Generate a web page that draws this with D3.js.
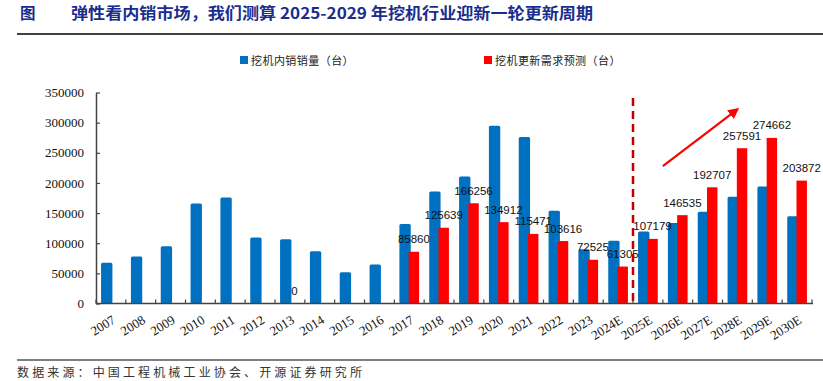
<!DOCTYPE html>
<html>
<head>
	<meta charset="utf-8">
	<title>挖机更新周期</title>
	<script src="https://d3js.org/d3.v7.min.js"></script>
	<style type="text/css">
		body{ margin:0; background:#fff; }
		svg{ display:block; }
	</style>
</head>
<body>
<script type="text/javascript">
	// data
	var years = ["2007","2008","2009","2010","2011","2012","2013","2014","2015","2016","2017","2018","2019","2020","2021","2022","2023","2024E","2025E","2026E","2027E","2028E","2029E","2030E"]
	var domesticSales = [67500,78000,95000,166000,176000,109500,106500,86500,52000,64700,132000,185800,210700,294700,276000,153700,90000,104000,119500,133700,152000,176900,194100,144900]
	var replaceDemand = [null,null,null,null,null,null,0,null,null,null,85860,125639,166256,134912,115471,103616,72525,61305,107179,146535,192707,257591,274662,203872]
	var yTicks = [0,50000,100000,150000,200000,250000,300000,350000]
	var seriesNames = ["挖机内销销量（台）","挖机更新需求预测（台）"]

	var W = 823, H = 381
	var blue = "#0070C0", red = "#FF0000"

	var svg = d3.select("body").append("svg").attr("width",W).attr("height",H)

	// title + rules
	svg.append("text").attr("x",20).attr("y",19)
		.style("font-family","'Noto Sans CJK SC'").style("font-weight","bold").style("font-size","15.5px")
		.attr("fill","#1a2d8c").text("图")
	svg.append("text").attr("x",71).attr("y",19)
		.style("font-family","'Noto Sans CJK SC'").style("font-weight","bold").style("font-size","15.5px")
		.attr("fill","#1a2d8c").attr("textLength",522).attr("lengthAdjust","spacingAndGlyphs")
		.text("弹性看内销市场，我们测算 2025-2029 年挖机行业迎新一轮更新周期")
	svg.append("line").attr("x1",17).attr("x2",W).attr("y1",34).attr("y2",34).attr("stroke","#000").attr("stroke-width",1.6)
	svg.append("line").attr("x1",17).attr("x2",W).attr("y1",360).attr("y2",360).attr("stroke","#000").attr("stroke-width",1.2)
	svg.append("text").attr("x",17).attr("y",377)
		.style("font-family","'Noto Sans CJK SC'").style("font-size","12px").attr("fill","#333")
		.attr("textLength",345).attr("lengthAdjust","spacing")
		.text("数据来源：中国工程机械工业协会、开源证券研究所")

	// scales
	var x = d3.scaleBand().domain(years).range([96,812]).paddingInner(0).paddingOuter(0)
	var y = d3.scaleLinear().domain([0,350000]).range([303.5,92.5])
	var bw = x.bandwidth()

	// legend
	var legend = [{name:seriesNames[0],color:blue,x:240},{name:seriesNames[1],color:red,x:484}]
	legend.forEach(function(d){
		svg.append("rect").attr("x",d.x).attr("y",56).attr("width",8).attr("height",8).attr("fill",d.color)
		svg.append("text").attr("x",d.x+11).attr("y",64.5)
			.style("font-family","'Noto Sans CJK SC'").style("font-size","11px").attr("fill","#222")
			.attr("textLength",d.name.length*11.4).attr("lengthAdjust","spacing")
			.text(d.name)
	})

	// bars
	var g = svg.append("g")
	g.selectAll(".b").data(years).enter().append("rect")
		.attr("x",function(d){ return x(d) + bw*0.17 })
		.attr("width",bw*0.38)
		.attr("y",function(d,i){ return y(domesticSales[i]) })
		.attr("height",function(d,i){ return y(0) - y(domesticSales[i]) })
		.attr("rx",1.5)
		.attr("fill",blue)

	var redData = years.map(function(d,i){ return {year:d, v:replaceDemand[i]} }).filter(function(d){ return d.v !== null })
	g.selectAll(".r").data(redData).enter().append("rect")
		.attr("x",function(d){ return x(d.year) + bw*0.48 })
		.attr("width",bw*0.35)
		.attr("y",function(d){ return y(d.v) })
		.attr("height",function(d){ return y(0) - y(d.v) })
		.attr("fill",red)

	g.selectAll(".lbl").data(redData).enter().append("text")
		.attr("x",function(d){ return x(d.year) + bw*0.655 })
		.attr("y",function(d){ return y(d.v) - 8.5 })
		.attr("text-anchor","middle")
		.style("font-family","'Liberation Sans', Arial").style("font-size","11.5px").attr("fill","#111")
		.text(function(d){ return d.v })

	// axes
	var yAxis = d3.axisLeft(y).tickValues(yTicks).tickSizeInner(-4).tickSizeOuter(0).tickPadding(12).tickFormat(d3.format("d"))
	var ya = svg.append("g").attr("transform","translate(96,0)").call(yAxis)
	ya.select(".domain").attr("stroke","#444").attr("stroke-width",1.5)
	ya.selectAll(".tick line").attr("stroke","#444").attr("stroke-width",1.2)
	ya.selectAll("text").style("font-family","'Liberation Serif', 'Times New Roman'").style("font-size","13px").attr("fill","#111")

	var xa = svg.append("g").attr("transform","translate(0,"+y(0)+")")
	xa.append("line").attr("x1",96).attr("x2",813).attr("stroke","#444").attr("stroke-width",1.5)
	xa.selectAll(".tk").data(years.concat(["end"])).enter().append("line")
		.attr("x1",function(d,i){ return 96 + i*bw }).attr("x2",function(d,i){ return 96 + i*bw })
		.attr("y1",0).attr("y2",-4).attr("stroke","#444").attr("stroke-width",1.2)
	xa.selectAll(".xl").data(years).enter().append("text")
		.attr("transform",function(d){ return "translate("+(x(d)+bw*0.52)+",11) rotate(-32)" })
		.attr("text-anchor","end").attr("dy","0.7em")
		.style("font-family","'Liberation Serif', 'Times New Roman'").style("font-size","13px").attr("fill","#111")
		.text(function(d){ return d })

	// divider between actual and forecast
	svg.append("line")
		.attr("x1",x("2025E")).attr("x2",x("2025E"))
		.attr("y1",y(341000)).attr("y2",y(0))
		.attr("stroke","#C00000").attr("stroke-width",2.5).attr("stroke-dasharray","8,5")

	// trend arrow
	svg.append("defs").append("marker").attr("id","ah").attr("viewBox","0 0 10 10")
		.attr("refX",8).attr("refY",5).attr("markerWidth",5).attr("markerHeight",5).attr("orient","auto")
		.append("path").attr("d","M0,0 L10,5 L0,10 z").attr("fill",red)
	svg.append("line")
		.attr("x1",x("2026E")).attr("y1",y(228000))
		.attr("x2",x("2028E")+bw*0.5).attr("y2",y(322000))
		.attr("stroke",red).attr("stroke-width",2.2).attr("marker-end","url(#ah)")
</script>
</body>
</html>
